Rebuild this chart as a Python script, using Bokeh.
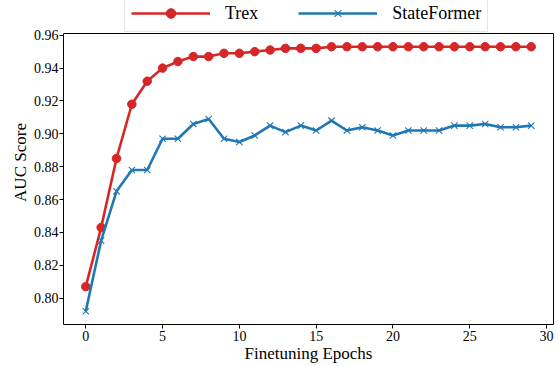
from bokeh.plotting import figure
from bokeh.models import (Legend, LegendItem, FixedTicker, NumeralTickFormatter, Range1d,
                          LinearAxis, Span)
from bokeh.embed import file_html
from bokeh.resources import INLINE

epochs = list(range(30))
trex = [0.807, 0.843, 0.885, 0.918, 0.932, 0.940, 0.944, 0.947, 0.947, 0.949,
        0.949, 0.950, 0.951, 0.952, 0.952, 0.952, 0.953, 0.953, 0.953, 0.953,
        0.953, 0.953, 0.953, 0.953, 0.953, 0.953, 0.953, 0.953, 0.953, 0.953]
stateformer = [0.792, 0.835, 0.865, 0.878, 0.878, 0.897, 0.897, 0.906, 0.909, 0.897,
               0.895, 0.899, 0.905, 0.901, 0.905, 0.902, 0.908, 0.902, 0.904, 0.902,
               0.899, 0.902, 0.902, 0.902, 0.905, 0.905, 0.906, 0.904, 0.904, 0.905]
x_ticks = [0, 5, 10, 15, 20, 25, 30]
y_ticks = [0.80, 0.82, 0.84, 0.86, 0.88, 0.90, 0.92, 0.94, 0.96]

FONT = "Liberation Serif"
RED = "#d62728"
BLUE = "#1f77b4"

# layout (pixels)
W, H = 559, 366
LEFT, RIGHT, BOTTOM = 63, 6, 42
AXES_TOP = 33            # top spine position; the legend sits above it
frame_h = H - BOTTOM
axes_h = frame_h - AXES_TOP

# matplotlib-like 5% margins
x_lo = min(epochs) - 0.05 * (max(epochs) - min(epochs))
x_hi = max(epochs) + 0.05 * (max(epochs) - min(epochs))
ally = trex + stateformer
y_lo = min(ally) - 0.05 * (max(ally) - min(ally))
y_hi = max(ally) + 0.05 * (max(ally) - min(ally))
y_end = y_lo + (y_hi - y_lo) * frame_h / axes_h

p = figure(width=W, height=H, output_backend="svg", toolbar_location=None,
           x_range=Range1d(x_lo, x_hi), y_range=Range1d(y_lo, y_end),
           min_border_left=LEFT, min_border_right=RIGHT, min_border_top=0,
           min_border_bottom=BOTTOM)
p.xgrid.visible = False
p.ygrid.visible = False
p.outline_line_color = None
p.background_fill_color = "white"
p.border_fill_color = "white"

l1 = p.line(epochs, trex, line_color=RED, line_width=2.6)
s1 = p.scatter(epochs, trex, marker="circle", size=8.5, fill_color=RED, line_color=RED)
l2 = p.line(epochs, stateformer, line_color=BLUE, line_width=2.6)
s2 = p.scatter(epochs, stateformer, marker="x", size=9, line_color=BLUE, line_width=1.1)

for ax in (p.xaxis[0], p.yaxis[0]):
    ax.axis_line_color = "black"
    ax.major_tick_line_color = "black"
    ax.major_tick_out = 4
    ax.major_tick_in = 0
    ax.minor_tick_out = 0
    ax.minor_tick_in = 0
    ax.major_label_text_font = FONT
    ax.major_label_text_font_size = "14px"
    ax.major_label_text_color = "black"
    ax.axis_label_text_font = FONT
    ax.axis_label_text_font_size = "17px"
    ax.axis_label_text_font_style = "normal"
    ax.axis_label_text_color = "black"

p.yaxis.bounds = (y_lo, y_hi)
p.xaxis.ticker = FixedTicker(ticks=x_ticks)
p.yaxis.ticker = FixedTicker(ticks=y_ticks)
p.yaxis.formatter = NumeralTickFormatter(format="0.00")
p.xaxis.axis_label = "Finetuning Epochs"
p.yaxis.axis_label = "AUC Score"
p.xaxis.major_label_standoff = 2
p.xaxis.axis_label_standoff = 0
p.yaxis.major_label_standoff = 1
p.yaxis.axis_label_standoff = 1

# right spine
right = LinearAxis(bounds=(y_lo, y_hi), ticker=FixedTicker(ticks=[]),
                   major_tick_out=0, major_tick_in=0, minor_tick_out=0, minor_tick_in=0,
                   major_label_text_font_size="0px", major_label_standoff=0,
                   axis_line_color="black")
p.add_layout(right, "right")
# top spine
p.add_layout(Span(location=y_hi, dimension="width", line_color="black", line_width=1))

legend = Legend(items=[LegendItem(label="Trex", renderers=[l1, s1]),
                       LegendItem(label="StateFormer", renderers=[l2, s2])],
                orientation="horizontal", location=(61, axes_h + 1),
                label_text_font=FONT, label_text_font_size="18px", label_text_color="black",
                glyph_width=79, glyph_height=24, label_standoff=15, spacing=40,
                padding=6, margin=0, label_height=24,
                border_line_color="#cccccc", border_line_width=1,
                background_fill_color="white", background_fill_alpha=1)
p.add_layout(legend, "center")

open("out.html", "w").write(file_html(p, INLINE))
